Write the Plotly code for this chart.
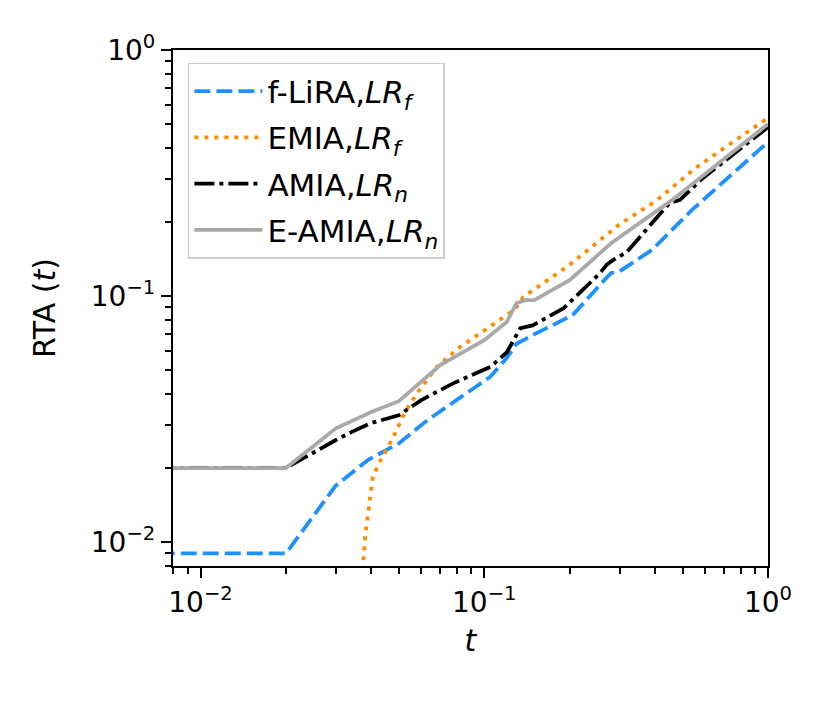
import plotly.graph_objects as go

t_lira = [0.001, 0.02, 0.03, 0.039, 0.05, 0.063, 0.094, 0.105, 0.12, 0.13, 0.148, 0.205, 0.27, 0.28, 0.30, 0.39, 0.54, 1.0]
rta_lira = [0.009, 0.009, 0.017, 0.0216, 0.0252, 0.0313, 0.043, 0.047, 0.056, 0.064, 0.0694, 0.0837, 0.119, 0.124, 0.126, 0.154, 0.224, 0.423]

t_emia = [0.036, 0.038, 0.0405, 0.0432, 0.0478, 0.0526, 0.058, 0.068, 0.082, 0.102, 0.123, 0.132, 0.137, 0.2, 0.3, 0.4, 0.56, 1.0]
rta_emia = [0.004, 0.0105, 0.0184, 0.0216, 0.0267, 0.0338, 0.0403, 0.0515, 0.062, 0.074, 0.0853, 0.092, 0.099, 0.134, 0.196, 0.242, 0.334, 0.53]

t_amia = [0.001, 0.02, 0.03, 0.034, 0.04, 0.05, 0.06, 0.078, 0.105, 0.12, 0.134, 0.148, 0.19, 0.256, 0.27, 0.284, 0.318, 0.45, 0.49, 0.59, 1.0]
rta_amia = [0.02, 0.02, 0.026, 0.028, 0.0305, 0.0328, 0.0378, 0.0443, 0.0515, 0.059, 0.074, 0.076, 0.089, 0.124, 0.134, 0.14, 0.151, 0.239, 0.246, 0.302, 0.486]

t_eamia = [0.001, 0.02, 0.03, 0.04, 0.05, 0.07, 0.1, 0.12, 0.13, 0.14, 0.15, 0.2, 0.27, 0.28, 0.46, 0.55, 0.57, 1.0]
rta_eamia = [0.02, 0.02, 0.029, 0.0338, 0.0374, 0.0524, 0.0662, 0.0784, 0.0937, 0.0963, 0.0963, 0.116, 0.158, 0.164, 0.246, 0.29, 0.30, 0.50]

decades = [0.01, 0.1, 1]
decade_labels = ["10<sup>\u22122</sup>", "10<sup>\u22121</sup>", "10<sup>0</sup>"]
minor_vals = [0.008, 0.009] + [k * 0.01 for k in range(2, 10)] + [k * 0.1 for k in range(2, 10)]

TICK_FS = 28
TITLE_FS = 30
LEG_FS = 31
W = 3.8

fig = go.Figure()
fig.add_trace(go.Scatter(x=t_lira, y=rta_lira, mode="lines", name="f-LiRA,<i>LR<sub>f</sub></i>", legendgroup="a",
                         line=dict(color="#1e90ff", width=W, dash="16px,6px")))
fig.add_trace(go.Scatter(x=t_emia, y=rta_emia, mode="lines", name="EMIA,<i>LR<sub>f</sub></i>", legendgroup="b",
                         line=dict(color="#ff8c00", width=W, dash="4px,6px")))
fig.add_trace(go.Scatter(x=t_amia, y=rta_amia, mode="lines", name="AMIA,<i>LR<sub>n</sub></i>", legendgroup="c",
                         line=dict(color="black", width=W, dash="20px,5px,4px,5px")))
fig.add_trace(go.Scatter(x=t_eamia, y=rta_eamia, mode="lines", name="E-AMIA,<i>LR<sub>n</sub></i>", legendgroup="d",
                         line=dict(color="#a9a9a9", width=W)))

axis_common = dict(
    type="log", range=[-2.0969, 0],
    tickvals=decades, ticktext=decade_labels,
    ticks="outside", ticklen=10, tickwidth=2, tickcolor="black",
    minor=dict(tickvals=minor_vals, ticks="outside", ticklen=6, tickwidth=1.6, tickcolor="black"),
    showline=True, linecolor="black", linewidth=2.2, mirror=True,
    showgrid=False, zeroline=False,
    tickfont=dict(size=TICK_FS, color="black"),
)

fig.update_layout(
    width=829, height=704,
    margin=dict(l=165, r=69, t=42, b=146),
    paper_bgcolor="white", plot_bgcolor="white",
    font=dict(family="DejaVu Sans", size=TICK_FS, color="black"),
    xaxis=dict(axis_common, title=dict(text="<i>t</i>", font=dict(size=TITLE_FS), standoff=12)),
    yaxis=dict(axis_common, title=dict(text="RTA (<i>t</i>)", font=dict(size=TITLE_FS), standoff=26)),
    showlegend=True,
    legend=dict(x=0.025, y=0.975, xanchor="left", yanchor="top",
                bgcolor="rgba(255,255,255,0.8)", bordercolor="#cccccc", borderwidth=1.5,
                font=dict(size=LEG_FS), tracegroupgap=3, itemwidth=68),
)

fig.write_html("out.html")
